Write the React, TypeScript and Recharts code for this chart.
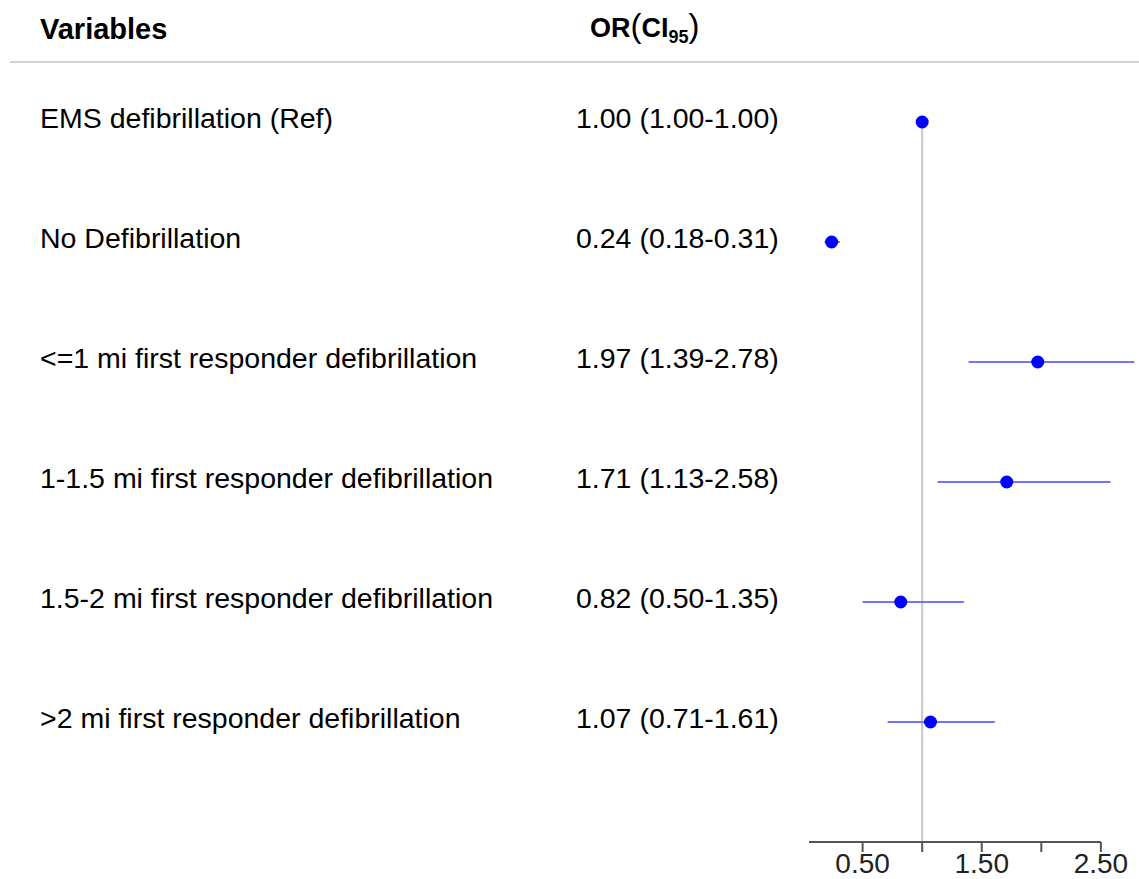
import { ScatterChart, Scatter, XAxis, YAxis, ErrorBar, ReferenceLine, Customized } from "recharts";

const variables = [
  "EMS defibrillation (Ref)",
  "No Defibrillation",
  "<=1 mi first responder defibrillation",
  "1-1.5 mi first responder defibrillation",
  "1.5-2 mi first responder defibrillation",
  ">2 mi first responder defibrillation",
];
const oddsRatios = [1.0, 0.24, 1.97, 1.71, 0.82, 1.07];
const lowerCI = [1.0, 0.18, 1.39, 1.13, 0.5, 0.71];
const upperCI = [1.0, 0.31, 2.78, 2.58, 1.35, 1.61];
const xTicks = [0.5, 1, 1.5, 2, 2.5];
const labelledTicks = [0.5, 1.5, 2.5];

const FONT = "'Liberation Sans', Arial, sans-serif";

const rows = variables.map((name, i) => ({
  name,
  row: i + 1,
  or: oddsRatios[i],
  err: [oddsRatios[i] - lowerCI[i], upperCI[i] - oddsRatios[i]],
  text: `${oddsRatios[i].toFixed(2)} (${lowerCI[i].toFixed(2)}-${upperCI[i].toFixed(2)})`,
}));

// text columns placed on each row's y from the scatter scale
const RowLabel = (props: any) => {
  const { cy, payload } = props;
  return (
    <g fontFamily={FONT} fontSize={28.5} fill="#000">
      <text x={40} y={cy + 6}>{payload.name}</text>
      <text x={576} y={cy + 6}>{payload.text}</text>
    </g>
  );
};

const AxisTick = (props: any) => {
  const { x, y, payload } = props;
  const show = labelledTicks.includes(payload.value);
  return (
    <g>
      <line x1={x} x2={x} y1={y} y2={y + 10} stroke="#555" strokeWidth={2} />
      {show && (
        <text x={x} y={y + 31} textAnchor="middle" fontFamily={FONT} fontSize={28} fill="#222">
          {payload.value.toFixed(2)}
        </text>
      )}
    </g>
  );
};

const Header = () => (
  <g fontFamily={FONT} fill="#000">
    <text x={40} y={39} fontSize={29} fontWeight="bold">Variables</text>
    <text x={590} y={37} fontSize={27} fontWeight="bold">
      OR
      <tspan fontWeight="normal" fontSize={33}>(</tspan>
      CI
      <tspan fontSize={18} dy={6}>95</tspan>
      <tspan fontWeight="normal" fontSize={33} dy={-6}>)</tspan>
    </text>
    <line x1={10} x2={1139} y1={62} y2={62} stroke="#d2d2d2" strokeWidth={2} />
  </g>
);

export default function App() {
  return (
    <div style={{ position: "absolute", left: 0, top: 0, background: "#fff" }}>
      <ScatterChart width={1139} height={879} margin={{ top: 2, right: 0, bottom: 0, left: 809 }}>
        <XAxis
          type="number"
          dataKey="or"
          domain={[0.05, 2.82]}
          ticks={xTicks}
          axisLine={false}
          tickLine={false}
          tickSize={0}
          tickMargin={0}
          height={37}
          tick={<AxisTick />}
        />
        <YAxis type="number" dataKey="row" domain={[0, 7]} reversed hide width={0} />
        <ReferenceLine
          segment={[{ x: 1, y: 1 }, { x: 1, y: 7 }]}
          stroke="#c8c8c8"
          strokeWidth={2}
        />
        <ReferenceLine
          segment={[{ x: 0.05, y: 7 }, { x: 2.5, y: 7 }]}
          stroke="#555"
          strokeWidth={2}
        />
        <Scatter data={rows} isAnimationActive={false} shape={<RowLabel />} />
        <Scatter
          data={rows}
          isAnimationActive={false}
          shape={(p: any) => <circle cx={p.cx} cy={p.cy} r={6.5} fill="#0000ff" />}
        >
          <ErrorBar dataKey="err" direction="x" width={0} stroke="#7373ff" strokeWidth={2} isAnimationActive={false} />
        </Scatter>
        <Customized component={Header} />
      </ScatterChart>
    </div>
  );
}
